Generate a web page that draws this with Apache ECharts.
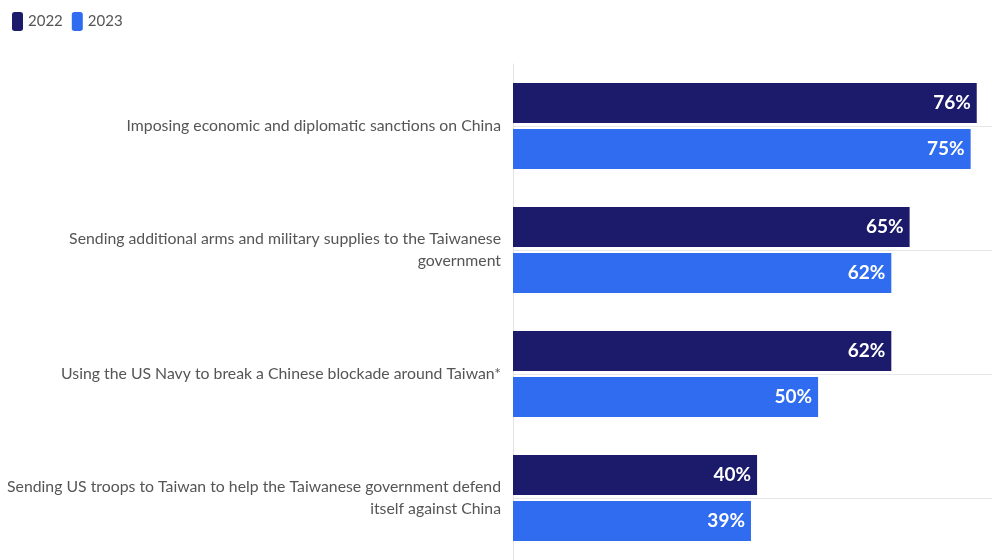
<!DOCTYPE html>
<html><head><meta charset="utf-8">
<script src="https://cdn.jsdelivr.net/npm/echarts@6/dist/echarts.min.js"></script>
<style>html,body{margin:0;padding:0;background:#fff}#c{width:992px;height:560px}</style>
</head><body><div id="c"></div>
<script>
var categories = [
  "Imposing economic and diplomatic sanctions on China",
  "Sending additional arms and military supplies to the Taiwanese\ngovernment",
  "Using the US Navy to break a Chinese blockade around Taiwan*",
  "Sending US troops to Taiwan to help the Taiwanese government defend\nitself against China"
];
var seriesNames = ["2022", "2023"];
var values2022 = [76, 65, 62, 40];
var values2023 = [75, 62, 50, 39];

var colors = ["#1b1a6b", "#2f6cf0"];
var chart = echarts.init(document.getElementById('c'), null, {renderer: 'canvas'});
function mkSeries(name, data, color) {
  return {
    name: name, type: 'bar', data: data, barWidth: 40, barGap: '15%', z: 3,
    itemStyle: {color: color},
    label: {show: true, position: 'insideRight', distance: 6, formatter: '{c}%',
      color: '#fff', fontWeight: 'bold', fontSize: 19, fontFamily: 'Lato',
      textBorderColor: color, textBorderWidth: 2},
    silent: true
  };
}
chart.setOption({
  animation: false,
  legend: {left: 7, top: 7, itemWidth: 11, itemHeight: 19, itemGap: 9,
    icon: 'roundRect', textStyle: {color: '#555', fontSize: 15, fontFamily: 'Lato'},
    data: seriesNames},
  grid: {left: 513, right: 0, top: 64, bottom: -2, containLabel: false},
  xAxis: {type: 'value', min: 0, max: 78.5, show: false},
  yAxis: {type: 'category', inverse: true, data: categories,
    axisLine: {show: true, lineStyle: {color: '#e3e3e3'}},
    axisTick: {show: false},
    splitLine: {show: false},
    axisLabel: {color: '#555', fontSize: 15.8, fontFamily: 'Lato', margin: 12, lineHeight: 22, align: 'right'}},
  series: [
    mkSeries(seriesNames[0], values2022, colors[0]),
    mkSeries(seriesNames[1], values2023, colors[1]),
    {type: 'line', data: [], z: 1, silent: true,
      markLine: {silent: true, symbol: 'none', label: {show: false}, z: 1,
        lineStyle: {color: '#e6e6e6', type: 'solid', width: 1},
        data: categories.map(function (c) { return {yAxis: c}; })}}
  ]
});
</script></body></html>
